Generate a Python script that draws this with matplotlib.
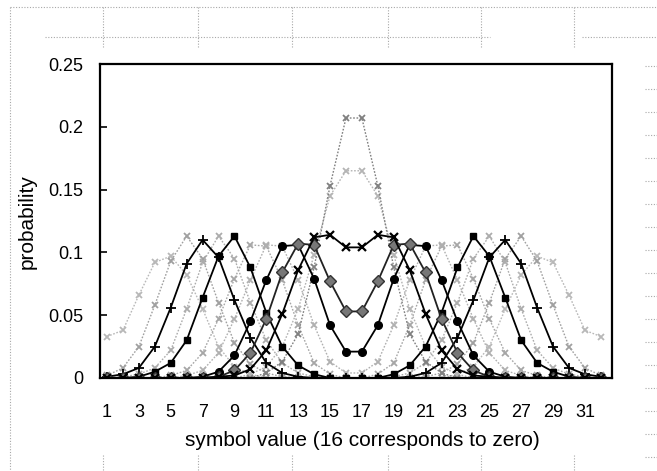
import matplotlib
matplotlib.use("Agg")
import matplotlib.pyplot as plt
from matplotlib.lines import Line2D

plt.rcParams['font.family'] = ['Liberation Sans', 'DejaVu Sans']

# symbol values 1..32 (16 corresponds to zero)
symbols = list(range(1, 33))
tick_values = list(range(1, 32, 2))
ytick_values = [0, 0.05, 0.1, 0.15, 0.2, 0.25]
ytick_labels = ['0', '0.05', '0.1', '0.15', '0.2', '0.25']

# gray distributions
p_center = [0, 0, 0, 0, 0, 0, 0, 0, 0, 0, 0.004, 0.013, 0.035, 0.088, 0.153, 0.207,
            0.207, 0.153, 0.088, 0.035, 0.013, 0.004, 0, 0, 0, 0, 0, 0, 0, 0, 0, 0]
p_near = [0, 0, 0, 0, 0, 0, 0, 0, 0, 0.003, 0.009, 0.025, 0.055, 0.098, 0.145, 0.165,
          0.165, 0.145, 0.098, 0.055, 0.025, 0.009, 0.003, 0, 0, 0, 0, 0, 0, 0, 0, 0]
p_g11 = [0, 0, 0, 0, 0, 0.002, 0.006, 0.02, 0.047, 0.078, 0.106, 0.105, 0.078, 0.042, 0.013, 0.004,
         0.004, 0.013, 0.042, 0.078, 0.105, 0.106, 0.078, 0.047, 0.02, 0.006, 0.002, 0, 0, 0, 0, 0]
p_g10 = [0, 0, 0, 0, 0.002, 0.006, 0.02, 0.047, 0.079, 0.106, 0.105, 0.078, 0.042, 0.012, 0.003, 0,
         0, 0.003, 0.012, 0.042, 0.078, 0.105, 0.106, 0.079, 0.047, 0.02, 0.006, 0.002, 0, 0, 0, 0]
p_g8 = [0, 0.001, 0.003, 0.008, 0.022, 0.055, 0.092, 0.113, 0.095, 0.06, 0.03, 0.012, 0.004, 0.001, 0, 0,
        0, 0, 0.001, 0.004, 0.012, 0.03, 0.06, 0.095, 0.113, 0.092, 0.055, 0.022, 0.008, 0.003, 0.001, 0]
p_g6 = [0.002, 0.008, 0.025, 0.058, 0.093, 0.113, 0.095, 0.06, 0.028, 0.011, 0.004, 0.001, 0, 0, 0, 0,
        0, 0, 0, 0, 0.001, 0.004, 0.011, 0.028, 0.06, 0.095, 0.113, 0.093, 0.058, 0.025, 0.008, 0.002]
p_wide = [0.033, 0.038, 0.066, 0.092, 0.097, 0.082, 0.055, 0.025, 0.009, 0.003, 0, 0, 0, 0, 0, 0,
          0, 0, 0, 0, 0, 0, 0.003, 0.009, 0.025, 0.055, 0.082, 0.097, 0.092, 0.066, 0.038, 0.033]

# black distributions
p_cross = [0, 0, 0, 0, 0, 0, 0, 0.001, 0.002, 0.007, 0.022, 0.051, 0.086, 0.112, 0.114, 0.104,
           0.104, 0.114, 0.112, 0.086, 0.051, 0.022, 0.007, 0.002, 0.001, 0, 0, 0, 0, 0, 0, 0]
p_diamond = [0, 0, 0, 0, 0, 0, 0, 0.001, 0.006, 0.02, 0.047, 0.084, 0.107, 0.106, 0.077, 0.053,
             0.053, 0.077, 0.106, 0.107, 0.084, 0.047, 0.02, 0.006, 0.001, 0, 0, 0, 0, 0, 0, 0]
p_circle = [0, 0, 0, 0, 0, 0, 0.001, 0.005, 0.018, 0.045, 0.078, 0.105, 0.106, 0.079, 0.042, 0.021,
            0.021, 0.042, 0.079, 0.106, 0.105, 0.078, 0.045, 0.018, 0.005, 0.001, 0, 0, 0, 0, 0, 0]
p_square = [0, 0, 0.001, 0.005, 0.012, 0.03, 0.064, 0.097, 0.113, 0.088, 0.052, 0.025, 0.01, 0.003, 0, 0,
            0, 0, 0.003, 0.01, 0.025, 0.052, 0.088, 0.113, 0.097, 0.064, 0.03, 0.012, 0.005, 0.001, 0, 0]
p_plus = [0.001, 0.003, 0.008, 0.025, 0.056, 0.091, 0.110, 0.096, 0.062, 0.032, 0.012, 0.004, 0.001, 0, 0, 0,
          0, 0, 0, 0.001, 0.004, 0.012, 0.032, 0.062, 0.096, 0.110, 0.091, 0.056, 0.025, 0.008, 0.003, 0.001]

W, H = 657, 471
fig = plt.figure(figsize=(W / 100, H / 100), dpi=100)
fig.patch.set_facecolor('white')


def fx(px):
    return px / W


def fy(py):
    return 1 - py / H


# spreadsheet cell borders around the chart
grid_kw = dict(color='#a8a8a8', lw=0.8, ls=(0, (1, 1.5)))
fig.add_artist(Line2D([fx(10), fx(657)], [fy(7), fy(7)], **grid_kw))
fig.add_artist(Line2D([fx(45), fx(490)], [fy(37), fy(37)], **grid_kw))
fig.add_artist(Line2D([fx(582), fx(657)], [fy(37), fy(37)], **grid_kw))
fig.add_artist(Line2D([fx(10), fx(10)], [fy(7), fy(471)], **grid_kw))
for gx in [103, 198, 292, 388, 481, 574]:
    fig.add_artist(Line2D([fx(gx), fx(gx)], [fy(7), fy(48)], **grid_kw))
    fig.add_artist(Line2D([fx(gx), fx(gx)], [fy(455), fy(471)], **grid_kw))
for gy in range(66, 460, 23):
    fig.add_artist(Line2D([fx(645), fx(657)], [fy(gy), fy(gy)], **grid_kw))

ax = fig.add_axes([fx(100), fy(378), (612 - 100) / W, (378 - 64) / H])

gray_series = [
    (p_wide, '#b8b8b8'),
    (p_g6, '#a0a0a0'),
    (p_g8, '#acacac'),
    (p_g10, '#a6a6a6'),
    (p_g11, '#b0b0b0'),
    (p_near, '#b4b4b4'),
    (p_center, '#808080'),
]
for vals, col in gray_series:
    ax.plot(symbols, vals, ls=(0, (1.2, 1.2)), lw=1.0, color=col,
            marker='x', ms=4.5, mew=1.3, mec=col)

ax.plot(symbols, p_plus, color='black', lw=1.3, marker='+', ms=7, mew=1.3)
ax.plot(symbols, p_square, color='black', lw=1.3, marker='s', ms=4.5)
ax.plot(symbols, p_circle, color='black', lw=1.3, marker='o', ms=5.5)
ax.plot(symbols, p_diamond, color='#222222', lw=1.3, marker='D', ms=6,
        mfc='#777777', mec='#333333', mew=1.0)
ax.plot(symbols, p_cross, color='black', lw=1.3, marker='x', ms=6, mew=1.6)

ax.set_xlim(0.56, 32.7)
ax.set_ylim(0, 0.25)
ax.set_xticks(tick_values)
ax.set_xticklabels([str(t) for t in tick_values], fontsize=13)
ax.set_yticks(ytick_values)
ax.set_yticklabels(ytick_labels, fontsize=13)
ax.tick_params(axis='x', length=0, pad=19)
ax.tick_params(axis='y', direction='in', length=5, width=1.2, pad=12)
for sp in ax.spines.values():
    sp.set_linewidth(1.6)
    sp.set_color('black')

fig.text(fx(27), fy(222), 'probability', rotation=90, ha='center', va='center', fontsize=15)
fig.text(fx(362), fy(441), 'symbol value (16 corresponds to zero)', ha='center', va='center',
         fontsize=15)

fig.savefig('out.png', dpi=100)
